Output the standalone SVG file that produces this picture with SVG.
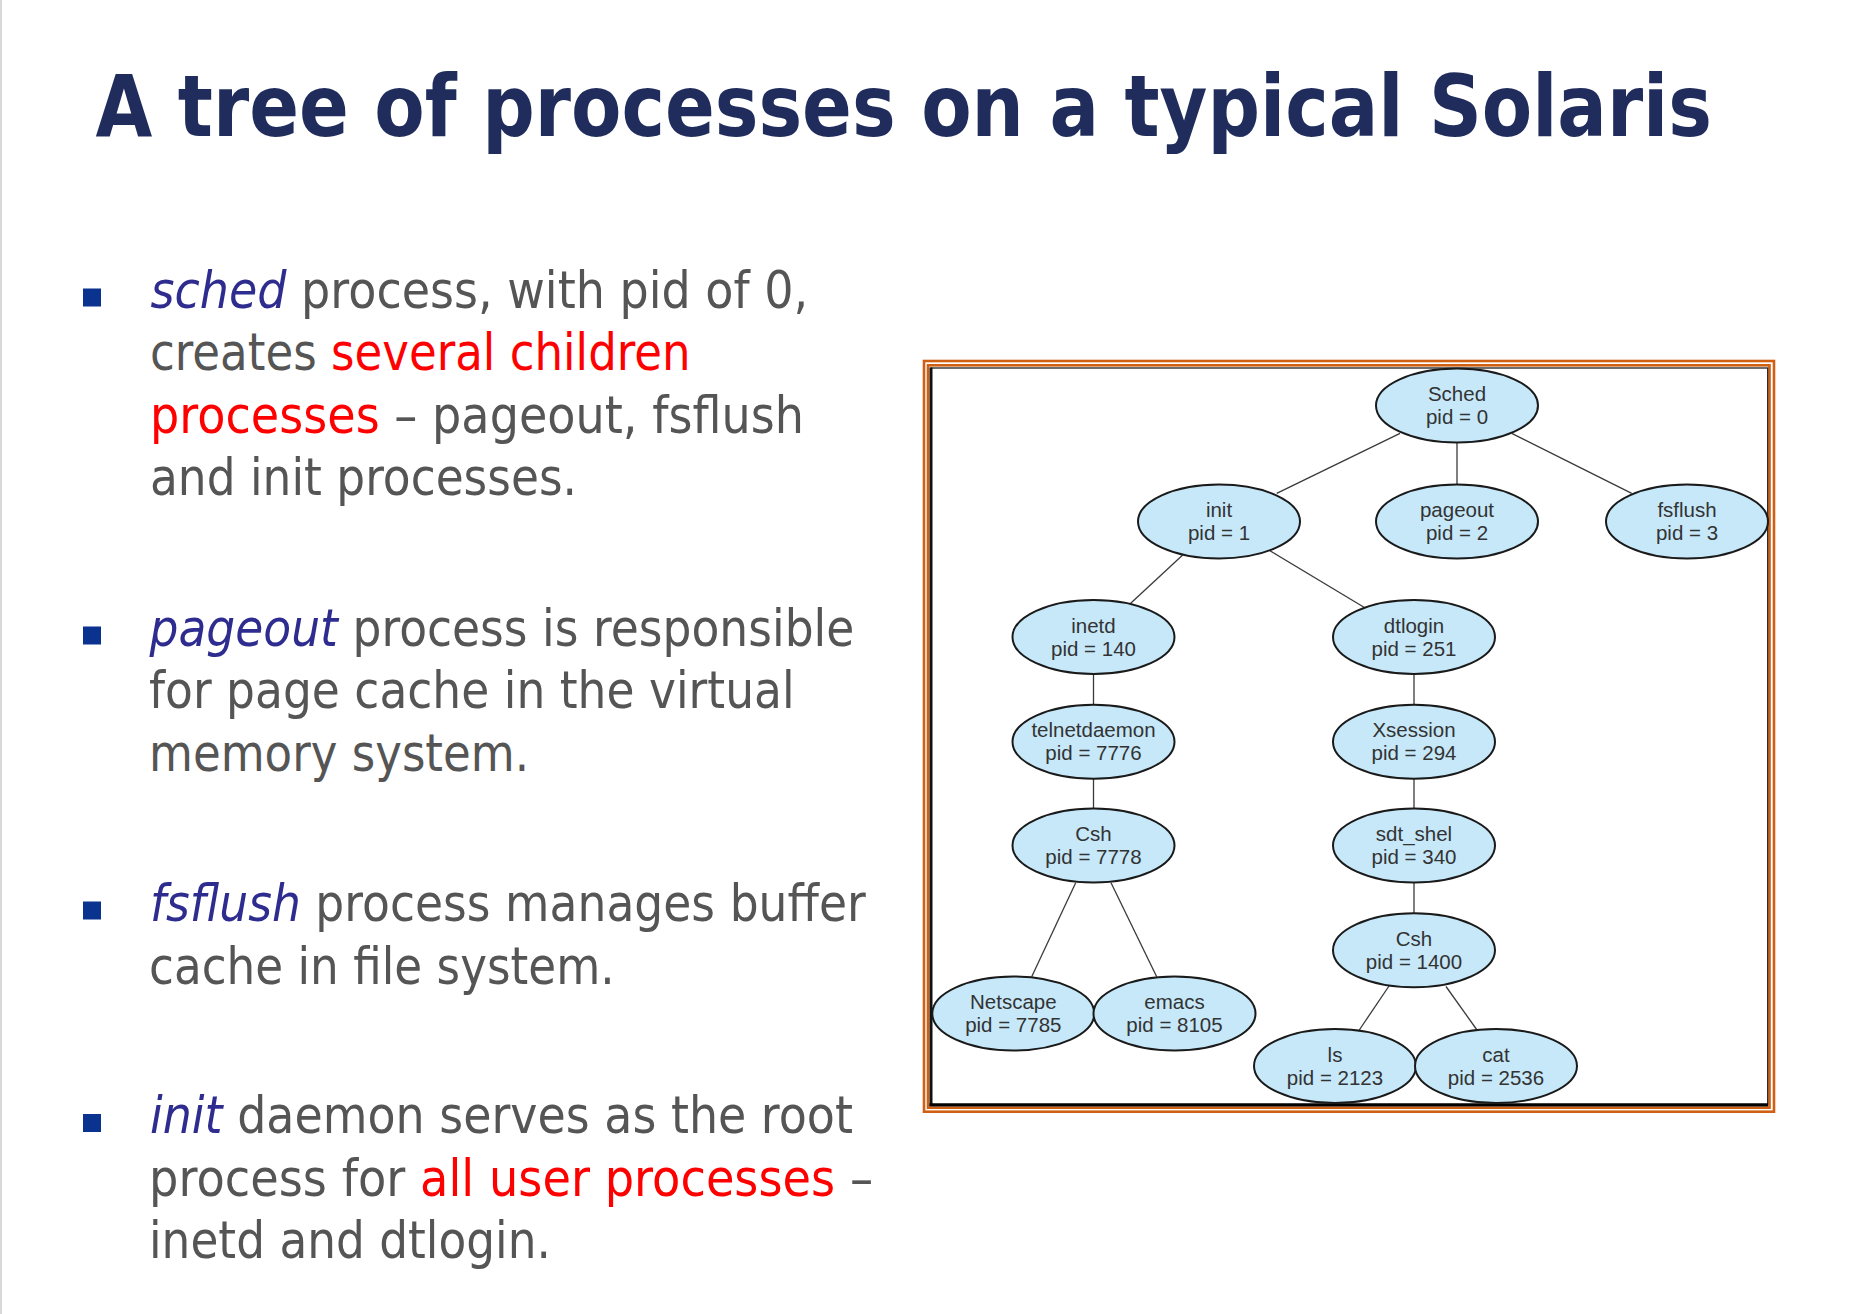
<svg xmlns="http://www.w3.org/2000/svg" width="1862" height="1314" viewBox="0 0 1862 1314">
<style>
.title{font-family:"DejaVu Sans","Liberation Sans",sans-serif;font-weight:bold;fill:#1f2c5c;font-size:85px}
.body{font-family:"DejaVu Sans","Liberation Sans",sans-serif;font-size:51px;fill:#555555}
.it{font-style:italic;fill:#2e2d8f}
.red{fill:#ff0000}
.bullet{fill:#0a3390}
.node ellipse{fill:#c6e8f9;stroke:#1a1a1a;stroke-width:2}
.node text{font-family:"Liberation Sans",Arial,sans-serif;font-size:20.5px;fill:#333333;text-anchor:middle}
.edges line{stroke:#3a3a3a;stroke-width:1.3}
.orange{fill:none;stroke:#cf5f12;stroke-width:2.6}
</style>
<rect x="0" y="0" width="1862" height="1314" fill="#ffffff"/>
<line x1="1" y1="0" x2="1" y2="1314" stroke="#d8d8d8" stroke-width="2"/>

<text class="title" transform="translate(95.5,135.7) scale(0.8635,1)" x="0" y="0" textLength="1872" lengthAdjust="spacingAndGlyphs">A tree of processes on a typical Solaris</text>

<g id="bullets">
<rect class="bullet" x="83" y="288.5" width="18" height="18"/>
<text class="body" transform="translate(150.5,308) scale(0.901,1)" textLength="730" lengthAdjust="spacingAndGlyphs"><tspan class="it">sched</tspan> process, with pid of 0,</text>
<text class="body" transform="translate(150,370.3) scale(0.881,1)" textLength="613.7" lengthAdjust="spacingAndGlyphs">creates <tspan class="red">several children</tspan></text>
<text class="body" transform="translate(150,432.6) scale(0.903,1)" textLength="724.3" lengthAdjust="spacingAndGlyphs"><tspan class="red">processes</tspan> – pageout, fsflush</text>
<text class="body" transform="translate(150,495) scale(0.889,1)" textLength="480.4" lengthAdjust="spacingAndGlyphs">and init processes.</text>

<rect class="bullet" x="83" y="626.5" width="18" height="18"/>
<text class="body" transform="translate(149.5,646) scale(0.891,1)" textLength="791" lengthAdjust="spacingAndGlyphs"><tspan class="it">pageout</tspan> process is responsible</text>
<text class="body" transform="translate(149,708.4) scale(0.893,1)" textLength="723" lengthAdjust="spacingAndGlyphs">for page cache in the virtual</text>
<text class="body" transform="translate(149,771) scale(0.884,1)" textLength="429.9" lengthAdjust="spacingAndGlyphs">memory system.</text>

<rect class="bullet" x="83" y="901.5" width="18" height="18"/>
<text class="body" transform="translate(150,921) scale(0.893,1)" textLength="801.5" lengthAdjust="spacingAndGlyphs"><tspan class="it">fsflush</tspan> process manages buffer</text>
<text class="body" transform="translate(149,983.6) scale(0.888,1)" textLength="524.5" lengthAdjust="spacingAndGlyphs">cache in file system.</text>

<rect class="bullet" x="83" y="1114" width="18" height="18"/>
<text class="body" transform="translate(150,1133.3) scale(0.899,1)" textLength="781.9" lengthAdjust="spacingAndGlyphs"><tspan class="it">init</tspan> daemon serves as the root</text>
<text class="body" transform="translate(149,1195.7) scale(0.883,1)" textLength="820.1" lengthAdjust="spacingAndGlyphs">process for <tspan class="red">all user processes</tspan> –</text>
<text class="body" transform="translate(149,1258.2) scale(0.89,1)" textLength="451.6" lengthAdjust="spacingAndGlyphs">inetd and dtlogin.</text>
</g>

<g id="frame">
<rect class="orange" x="924" y="361" width="850" height="750.7"/>
<rect class="orange" x="928" y="365.3" width="841.5" height="742.4"/>
<rect x="931" y="368" width="836.7" height="736.7" fill="#ffffff" stroke="#222222" stroke-width="1.3"/>
<line x1="931" y1="367.5" x2="931" y2="1106" stroke="#111111" stroke-width="3"/>
<line x1="929.5" y1="1104.8" x2="1768" y2="1104.8" stroke="#000000" stroke-width="3.2"/>
</g>

<g id="connectors" class="edges">
<line x1="1400" y1="433.3" x2="1276.7" y2="493.3"/>
<line x1="1457" y1="442.7" x2="1457" y2="484.3"/>
<line x1="1511.7" y1="433.3" x2="1631.7" y2="493.3"/>
<line x1="1182.7" y1="555" x2="1130.7" y2="603.3"/>
<line x1="1270" y1="550.7" x2="1364" y2="607.3"/>
<line x1="1093.5" y1="674" x2="1093.5" y2="704.7"/>
<line x1="1093.5" y1="779" x2="1093.5" y2="808.5"/>
<line x1="1075.7" y1="882.7" x2="1031.7" y2="976.7"/>
<line x1="1111" y1="882.7" x2="1156.7" y2="976.7"/>
<line x1="1414" y1="674" x2="1414" y2="704.7"/>
<line x1="1414" y1="779" x2="1414" y2="808.5"/>
<line x1="1414" y1="883" x2="1414" y2="913.5"/>
<line x1="1389" y1="986" x2="1359.3" y2="1030"/>
<line x1="1446" y1="986.5" x2="1477" y2="1030"/>
</g>

<g id="sched" class="node"><ellipse cx="1457" cy="405.5" rx="81" ry="37"/><text x="1457" y="401">Sched</text><text x="1457" y="424">pid = 0</text></g>
<g id="init" class="node"><ellipse cx="1219" cy="521.5" rx="81" ry="37"/><text x="1219" y="517">init</text><text x="1219" y="540">pid = 1</text></g>
<g id="pageout" class="node"><ellipse cx="1457" cy="521.5" rx="81" ry="37"/><text x="1457" y="517">pageout</text><text x="1457" y="540">pid = 2</text></g>
<g id="fsflush" class="node"><ellipse cx="1687" cy="521.5" rx="81" ry="37"/><text x="1687" y="517">fsflush</text><text x="1687" y="540">pid = 3</text></g>
<g id="inetd" class="node"><ellipse cx="1093.5" cy="637" rx="81" ry="37"/><text x="1093.5" y="632.5">inetd</text><text x="1093.5" y="655.5">pid = 140</text></g>
<g id="dtlogin" class="node"><ellipse cx="1414" cy="637" rx="81" ry="37"/><text x="1414" y="632.5">dtlogin</text><text x="1414" y="655.5">pid = 251</text></g>
<g id="telnetdaemon" class="node"><ellipse cx="1093.5" cy="741.7" rx="81" ry="37"/><text x="1093.5" y="737.2">telnetdaemon</text><text x="1093.5" y="760.2">pid = 7776</text></g>
<g id="xsession" class="node"><ellipse cx="1414" cy="741.7" rx="81" ry="37"/><text x="1414" y="737.2">Xsession</text><text x="1414" y="760.2">pid = 294</text></g>
<g id="csh7778" class="node"><ellipse cx="1093.5" cy="845.5" rx="81" ry="37"/><text x="1093.5" y="841">Csh</text><text x="1093.5" y="864">pid = 7778</text></g>
<g id="sdt_shel" class="node"><ellipse cx="1414" cy="845.5" rx="81" ry="37"/><text x="1414" y="841">sdt_shel</text><text x="1414" y="864">pid = 340</text></g>
<g id="csh1400" class="node"><ellipse cx="1414" cy="950.3" rx="81" ry="37"/><text x="1414" y="945.8">Csh</text><text x="1414" y="968.8">pid = 1400</text></g>
<g id="netscape" class="node"><ellipse cx="1013.3" cy="1013.5" rx="81" ry="37"/><text x="1013.3" y="1009">Netscape</text><text x="1013.3" y="1032">pid = 7785</text></g>
<g id="emacs" class="node"><ellipse cx="1174.5" cy="1013.5" rx="81" ry="37"/><text x="1174.5" y="1009">emacs</text><text x="1174.5" y="1032">pid = 8105</text></g>
<g id="ls" class="node"><ellipse cx="1335" cy="1066" rx="81" ry="37"/><text x="1335" y="1061.5">ls</text><text x="1335" y="1084.5">pid = 2123</text></g>
<g id="cat" class="node"><ellipse cx="1496" cy="1066" rx="81" ry="37"/><text x="1496" y="1061.5">cat</text><text x="1496" y="1084.5">pid = 2536</text></g>
</svg>
